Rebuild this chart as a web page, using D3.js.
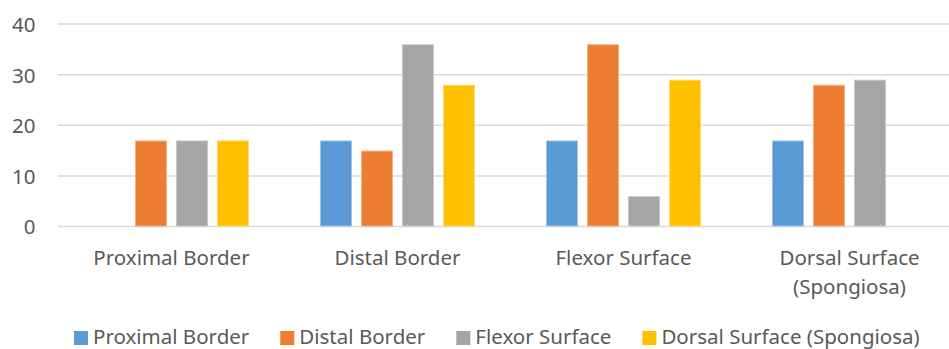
<!DOCTYPE html>
<html>
<head>
<meta charset="utf-8">
<script src="https://cdn.jsdelivr.net/npm/d3@7"></script>
<style>
  html, body { margin: 0; padding: 0; background: #fff; overflow: hidden; }
  svg { display: block; }
  text { font-family: "Noto Sans", "Open Sans", sans-serif; fill: #595959; }
</style>
</head>
<body>
<svg id="chart" width="949" height="349"></svg>
<script>
// Categories (x axis groups)
const categories = ["Proximal Border", "Distal Border", "Flexor Surface", "Dorsal Surface (Spongiosa)"];
// Series names (legend order)
const seriesNames = ["Proximal Border", "Distal Border", "Flexor Surface", "Dorsal Surface (Spongiosa)"];
// Values of each series, one per category
const proximalBorder = [0, 17, 17, 17];
const distalBorder   = [17, 15, 36, 28];
const flexorSurface  = [17, 36, 6, 29];
const dorsalSurface  = [17, 28, 29, 0];
// Y axis ticks
const yTicks = [0, 10, 20, 30, 40];

const colors = ["#5B9BD5", "#ED7D31", "#A5A5A5", "#FFC000"];
const edgeColors = ["#9DC3E6", "#F4B183", "#C9C9C9", "#FFD966"];

const seriesValues = [proximalBorder, distalBorder, flexorSurface, dorsalSurface];
const table = categories.map((c, ci) => ({
  category: c,
  values: seriesNames.map((s, si) => ({ series: si, value: seriesValues[si][ci] }))
}));

const svg = d3.select("#chart");

const x0 = d3.scaleBand().domain(categories).range([58.5, 962.5]).paddingInner(0).paddingOuter(0);
const x1 = d3.scaleBand().domain(d3.range(seriesNames.length)).range([35.5, 190.5]).paddingInner(9 / 41).paddingOuter(0);
const y = d3.scaleLinear().domain([0, 40]).range([226.5, 24]);

const fontSize = 20.5;

// Gridlines
svg.append("g")
  .selectAll("line")
  .data(yTicks)
  .join("line")
  .attr("x1", 58).attr("x2", 949)
  .attr("y1", d => y(d)).attr("y2", d => y(d))
  .attr("stroke", "#D9D9D9").attr("stroke-width", 1.5);

// Y tick labels
const yAxis = d3.axisLeft(y).tickValues(yTicks).tickSize(0).tickPadding(0);
const yg = svg.append("g").attr("transform", "translate(35.5,0)").call(yAxis);
yg.select(".domain").remove();
yg.selectAll("text")
  .attr("font-size", fontSize)
  .attr("font-family", null)
  .attr("fill", "#595959")
  .attr("dy", "0.36em");

// Bars
const groups = svg.append("g")
  .selectAll("g")
  .data(table)
  .join("g")
  .attr("transform", d => `translate(${x0(d.category)},0)`);

groups.selectAll("rect")
  .data(d => d.values.filter(v => v.value > 0))
  .join("rect")
  .attr("x", d => x1(d.series) + 0.5)
  .attr("width", x1.bandwidth() - 1)
  .attr("y", d => y(d.value) + 0.5)
  .attr("height", d => y(0) - y(d.value) - 1)
  .attr("fill", d => colors[d.series])
  .attr("stroke", d => edgeColors[d.series])
  .attr("stroke-width", 1);

// Category labels, long ones wrapped onto two lines
const catLines = {
  "Dorsal Surface (Spongiosa)": ["Dorsal Surface", "(Spongiosa)"]
};
const xg = svg.append("g");
categories.forEach(c => {
  const lines = catLines[c] || [c];
  const cx = x0(c) + 113;
  const t = xg.append("text")
    .attr("text-anchor", "middle")
    .attr("font-size", fontSize);
  lines.forEach((l, i) => {
    t.append("tspan")
      .attr("x", cx)
      .attr("y", 265 + i * 29)
      .text(l);
  });
});

// Legend, laid out left to right from measured text widths
const legend = svg.append("g");
let lx = 74;
seriesNames.forEach((name, i) => {
  legend.append("rect")
    .attr("x", lx).attr("y", 331).attr("width", 14).attr("height", 14)
    .attr("fill", colors[i]);
  const t = legend.append("text")
    .attr("x", lx + 19).attr("y", 343.5)
    .attr("font-size", fontSize)
    .text(name);
  lx += 19 + t.node().getComputedTextLength() + 31;
});
</script>
</body>
</html>
